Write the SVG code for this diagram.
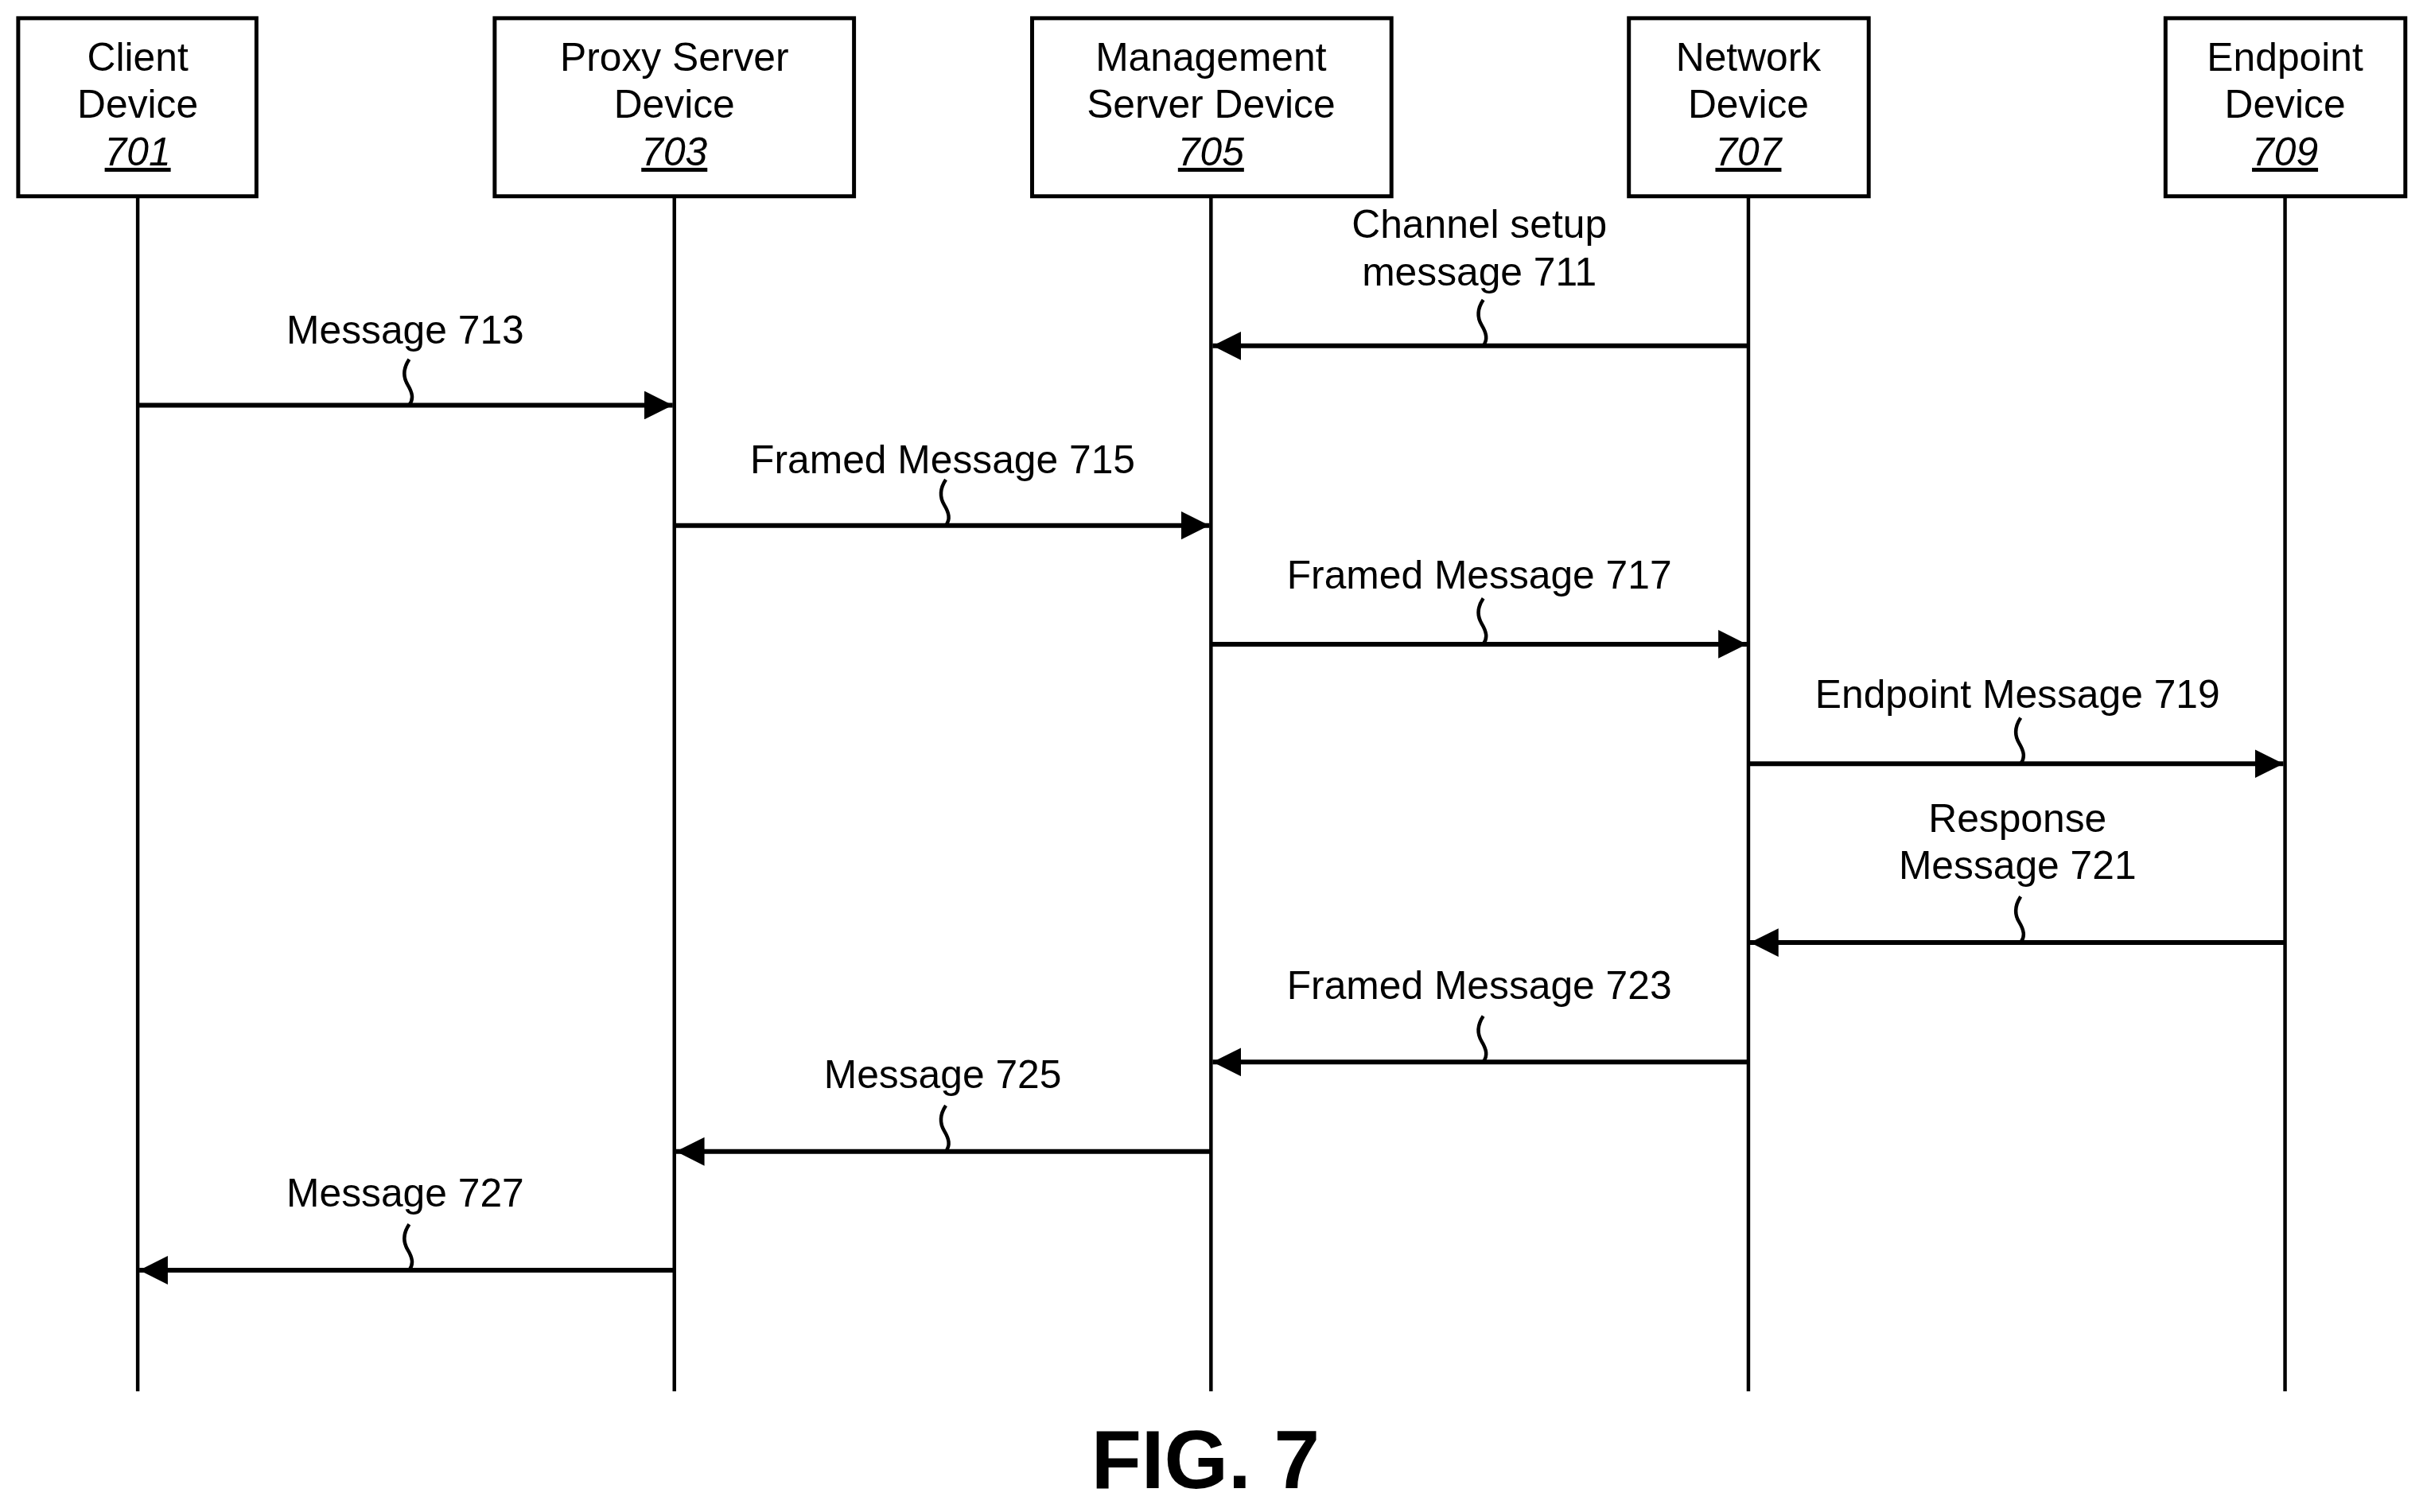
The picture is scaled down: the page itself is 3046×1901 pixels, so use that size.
<svg xmlns="http://www.w3.org/2000/svg" width="3046" height="1901" viewBox="0 0 3046 1901">
<style>
text{font-family:"Liberation Sans",Arial,sans-serif;font-size:50px;fill:#000;text-anchor:middle}
.ref{font-style:italic;text-decoration:underline}
.box{fill:#fff;stroke:#000;stroke-width:5}
.life{stroke:#000;stroke-width:4.5}
.msg{stroke:#000;stroke-width:6;fill:none}
.sq{stroke:#000;stroke-width:4.5;fill:none}
</style>
<defs>
<marker id="ah" viewBox="0 0 10 10" refX="10" refY="5" markerWidth="6" markerHeight="6" markerUnits="strokeWidth" orient="auto"><path d="M0 0L10 5L0 10z" fill="#000"/></marker>
</defs>
<g transform="scale(0.995)">
<g id="lifelines">
<line class="life" x1="174" y1="248" x2="174" y2="1758"/>
<line class="life" x1="852" y1="248" x2="852" y2="1758"/>
<line class="life" x1="1530" y1="248" x2="1530" y2="1758"/>
<line class="life" x1="2209" y1="248" x2="2209" y2="1758"/>
<line class="life" x1="2887" y1="248" x2="2887" y2="1758"/>
</g>
<g id="n701"><rect class="box" x="23" y="23" width="301" height="225"/><text x="174" y="89">Client</text><text x="174" y="149">Device</text><text class="ref" x="174" y="209">701</text></g>
<g id="n703"><rect class="box" x="625" y="23" width="454" height="225"/><text x="852" y="89">Proxy Server</text><text x="852" y="149">Device</text><text class="ref" x="852" y="209">703</text></g>
<g id="n705"><rect class="box" x="1304" y="23" width="454" height="225"/><text x="1530" y="89">Management</text><text x="1530" y="149">Server Device</text><text class="ref" x="1530" y="209">705</text></g>
<g id="n707"><rect class="box" x="2058" y="23" width="303" height="225"/><text x="2209" y="89">Network</text><text x="2209" y="149">Device</text><text class="ref" x="2209" y="209">707</text></g>
<g id="n709"><rect class="box" x="2736" y="23" width="303" height="225"/><text x="2887" y="89">Endpoint</text><text x="2887" y="149">Device</text><text class="ref" x="2887" y="209">709</text></g>
<g id="connectors">
<line class="msg" x1="2209" y1="437" x2="1532" y2="437" marker-end="url(#ah)"/>
<line class="msg" x1="174" y1="512" x2="850" y2="512" marker-end="url(#ah)"/>
<line class="msg" x1="852" y1="664" x2="1528" y2="664" marker-end="url(#ah)"/>
<line class="msg" x1="1530" y1="814" x2="2207" y2="814" marker-end="url(#ah)"/>
<line class="msg" x1="2209" y1="965" x2="2885" y2="965" marker-end="url(#ah)"/>
<line class="msg" x1="2887" y1="1191" x2="2211" y2="1191" marker-end="url(#ah)"/>
<line class="msg" x1="2209" y1="1342" x2="1532" y2="1342" marker-end="url(#ah)"/>
<line class="msg" x1="1530" y1="1455" x2="854" y2="1455" marker-end="url(#ah)"/>
<line class="msg" x1="852" y1="1605" x2="176" y2="1605" marker-end="url(#ah)"/>
<path class="sq" d="M1874 379c-8 12-8 22-2 32c6 10 8 18 2 26"/>
<path class="sq" d="M517 454c-8 12-8 22-2 32c6 10 8 18 2 26"/>
<path class="sq" d="M1195 606c-8 12-8 22-2 32c6 10 8 18 2 26"/>
<path class="sq" d="M1874 756c-8 12-8 22-2 32c6 10 8 18 2 26"/>
<path class="sq" d="M2553 907c-8 12-8 22-2 32c6 10 8 18 2 26"/>
<path class="sq" d="M2553 1133c-8 12-8 22-2 32c6 10 8 18 2 26"/>
<path class="sq" d="M1874 1284c-8 12-8 22-2 32c6 10 8 18 2 26"/>
<path class="sq" d="M1195 1397c-8 12-8 22-2 32c6 10 8 18 2 26"/>
<path class="sq" d="M517 1547c-8 12-8 22-2 32c6 10 8 18 2 26"/>
<text x="1869" y="301">Channel setup</text><text x="1869" y="361">message 711</text>
<text x="512" y="434">Message 713</text>
<text x="1191" y="598">Framed Message 715</text>
<text x="1869" y="744">Framed Message 717</text>
<text x="2549" y="894">Endpoint Message 719</text>
<text x="2549" y="1051">Response</text><text x="2549" y="1111">Message 721</text>
<text x="1869" y="1262">Framed Message 723</text>
<text x="1191" y="1375">Message 725</text>
<text x="512" y="1525">Message 727</text>
</g>
<text x="1523" y="1880" style="font-size:104px;font-weight:bold">FIG. 7</text>
</g>
</svg>
